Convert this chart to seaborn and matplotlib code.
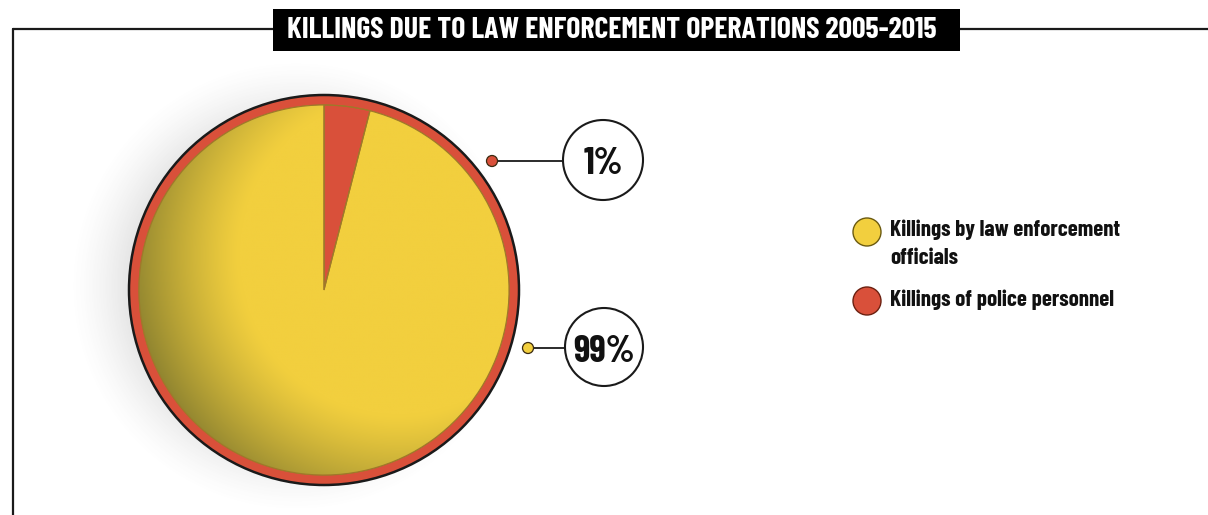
import numpy as np
import matplotlib
matplotlib.use("Agg")
import matplotlib.pyplot as plt
from matplotlib.patches import Circle, Rectangle, Wedge
import seaborn as sns

# ---------------- data ----------------
title = "KILLINGS DUE TO LAW ENFORCEMENT OPERATIONS 2005-2015"
categories = ["Killings of police personnel", "Killings by law enforcement officials"]
shares_drawn = [4, 96]          # slice sizes as drawn in the reference
share_labels = ["1%", "99%"]    # printed percentages
legend_order = ["Killings by law enforcement\nofficials", "Killings of police personnel"]

RED = "#d9503a"
YELLOW = "#f2cf3e"
DARK_YELLOW = "#8f8430"

sns.set_theme(style="white")
plt.rcParams['font.family'] = ['Barlow Condensed', 'DejaVu Sans']

W, H = 1208, 515
fig = plt.figure(figsize=(W / 100, H / 100), dpi=100)
ax = fig.add_axes([0, 0, 1, 1])

def Y(ypx):
    return H - ypx

cx, cy, R = 324, Y(290), 195
ring = 10

# soft shadow (left / upper-left)
xs = np.linspace(0, 700, 700)
ys = np.linspace(0, H, H)
XX, YY = np.meshgrid(xs, ys)
d = np.hypot(XX - (cx - 28), YY - (cy + 4))
sh = np.clip((R + 32 - d) / 60.0, 0, 1)
sh = sh ** 1.4 * 0.17
rgba = np.zeros(XX.shape + (4,))
rgba[..., 0:3] = 0.4
rgba[..., 3] = sh
ax.imshow(rgba, extent=(0, 700, 0, H), origin="lower", zorder=0.5, interpolation="bilinear")

# outer ring
ax.add_patch(Circle((cx, cy), R, facecolor=RED, edgecolor="#1a1a1a", lw=1.8, zorder=1))

wedges, _ = ax.pie(shares_drawn, colors=[RED, YELLOW], startangle=90, counterclock=False,
                   center=(cx, cy), radius=R - ring,
                   wedgeprops=dict(edgecolor="#9a7a2a", linewidth=0.8))
for w in wedges:
    w.set_zorder(2)

# shading of the yellow slice (light from upper right)
gx = np.linspace(cx - R, cx + R, 400)
gy = np.linspace(cy - R, cy + R, 400)
GX, GY = np.meshgrid(gx, gy)
dl = np.hypot(GX - (cx + 75), GY - (cy + 35))
t = np.clip((dl - 160) / 110.0, 0, 1) ** 1.2
c1 = np.array(matplotlib.colors.to_rgb(YELLOW))
c2 = np.array(matplotlib.colors.to_rgb(DARK_YELLOW))
img = np.zeros(GX.shape + (4,))
img[..., :3] = c1 * (1 - t[..., None]) + c2 * t[..., None]
img[..., 3] = 1
im = ax.imshow(img, extent=(cx - R, cx + R, cy - R, cy + R), origin="lower", zorder=2.5,
               interpolation="bilinear")
im.set_clip_path(wedges[1])
for w in wedges:
    ax.add_patch(Wedge(w.center, w.r, w.theta1, w.theta2, facecolor="none",
                       edgecolor="#a0782a", lw=0.8, zorder=3))

# callouts
callouts = [((492, 161), (603, 160), 40, RED, share_labels[0]),
            ((528, 348), (604, 347), 39, YELLOW, share_labels[1])]
for (dx, dy), (ccx, ccy), cr, col, lab in callouts:
    ax.plot([dx, ccx - cr], [Y(dy), Y(dy)], color="#1a1a1a", lw=1.3, zorder=4)
    ax.add_patch(Circle((dx, Y(dy)), 5.5, facecolor=col, edgecolor="#3a2a10", lw=0.9, zorder=5))
    ax.add_patch(Circle((ccx, Y(ccy)), cr, facecolor="white", edgecolor="#1a1a1a", lw=1.5, zorder=4))
    ax.text(ccx, Y(ccy) - 1, lab, ha="center", va="center_baseline", fontsize=27, fontweight="bold",
            color="#111111", zorder=6)

# legend
leg_y = [232, 301]
leg_cols = [YELLOW, RED]
leg_edge = ["#6b5a10", "#6b2010"]
for ly, col, ec, lab in zip(leg_y, leg_cols, leg_edge, legend_order):
    ax.add_patch(Circle((867, Y(ly)), 14, facecolor=col, edgecolor=ec, lw=1.0, zorder=4))
    ax.text(890, Y(ly - 12), lab, ha="left", va="top", fontsize=16.5, fontweight="bold",
            color="#111111", linespacing=1.45, zorder=5)

# frame and title
ax.plot([13, 273], [Y(29), Y(29)], color="#1a1a1a", lw=1.6, zorder=1)
ax.plot([960, W], [Y(29), Y(29)], color="#1a1a1a", lw=1.6, zorder=1)
ax.plot([13, 13], [Y(29), 0], color="#1a1a1a", lw=1.6, zorder=1)
ax.add_patch(Rectangle((273, Y(51)), 960 - 273, 42, facecolor="black", edgecolor="none", zorder=3))
ax.text(612, Y(30), title, ha="center", va="center", color="white", fontsize=21.5,
        fontweight="bold", zorder=4)

ax.set_xlim(0, W)
ax.set_ylim(0, H)
ax.set_aspect("auto")
ax.axis("off")
fig.savefig("out.png", dpi=100)
